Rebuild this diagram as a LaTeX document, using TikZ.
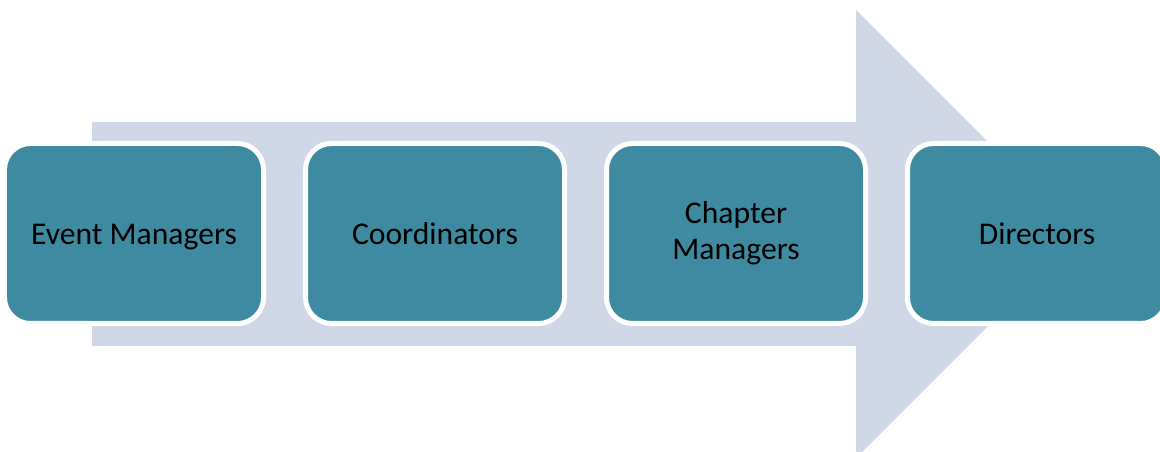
\documentclass[tikz,border=0pt]{standalone}
\usepackage{fontspec}
\setmainfont{Carlito}
\usepackage{xcolor}
\usepackage{tikz}
\usetikzlibrary{positioning}
\definecolor{stepteal}{RGB}{62,138,160}
\definecolor{arrowgray}{RGB}{208,216,232}
\newcommand{\lvlstrut}{\rule[-3.3pt]{0pt}{19.3pt}}
\tikzstyle{level} = [rectangle, rounded corners=0.52cm, minimum width=5.18cm, minimum height=3.6cm, align=center, fill=stepteal, draw=white, line width=0.1cm, outer sep=0pt, font=\fontsize{18}{20.4}\selectfont, execute at begin node=\lvlstrut, execute at end node=\lvlstrut]

\begin{document}
\begin{tikzpicture}[node distance=0.84cm]
		\useasboundingbox (0,0) rectangle (23.2,9.04);
		\clip (0,0) rectangle (23.2,9.04);
		
		% big arrow behind the boxes
		\fill [arrowgray] (1.84,2.12) -- (17.12,2.12) -- (17.12,-0.12) -- (21.6,4.36)
			-- (17.12,8.84) -- (17.12,6.6) -- (1.84,6.6) -- cycle;
		
		\node (events) [level] at (2.68,4.37) {Event Managers};
		\node (coord) [level, right=of events] {Coordinators};
		\node (chapter) [level, right=of coord] {Chapter\\Managers};
		\node (directors) [level, right=of chapter] {Directors};
	\end{tikzpicture}
\end{document}
